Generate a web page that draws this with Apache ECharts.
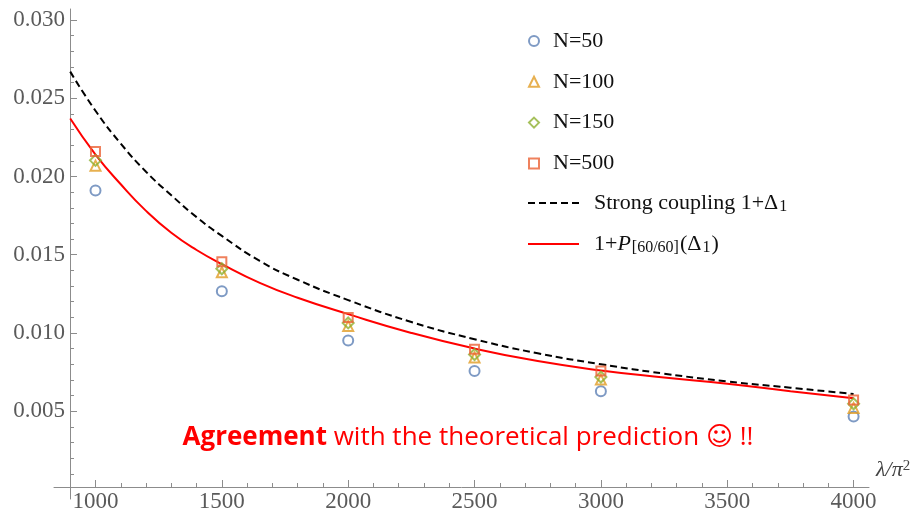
<!DOCTYPE html>
<html>
<head>
<meta charset="utf-8">
<script src="https://cdn.jsdelivr.net/npm/echarts@6/dist/echarts.min.js"></script>
<style>html,body{margin:0;padding:0;background:#fff}#c{width:921px;height:513px}</style>
</head>
<body>
<div id="c"></div>
<script>
// ---- data ----
var lambdaPts = [1000, 1500, 2000, 2500, 3000, 4000];
var n50  = [0.01911, 0.01267, 0.00951, 0.00757, 0.00628, 0.00466];
var n100 = [0.02069, 0.01388, 0.01045, 0.00843, 0.00702, 0.00521];
var n150 = [0.02103, 0.01410, 0.01064, 0.00862, 0.00718, 0.00547];
var n500 = [0.02160, 0.01455, 0.01098, 0.00895, 0.00757, 0.00572];

var curveLambda = [900, 1000, 1100, 1200, 1300, 1400, 1500, 1650, 1800, 2000, 2250, 2500, 2750, 3000, 3250, 3500, 3750, 4000];
var strongCoupling = [0.0267, 0.0242, 0.0221, 0.0203, 0.0188, 0.0174, 0.0162, 0.0146, 0.0134, 0.0121, 0.0107, 0.0096, 0.0087, 0.0080, 0.0074, 0.0069, 0.0065, 0.0061];
var pade = [0.0237, 0.0214, 0.0195, 0.0178, 0.0164, 0.0153, 0.0144, 0.0132, 0.01225, 0.0112, 0.0100, 0.0090, 0.0082, 0.0076, 0.00715, 0.00675, 0.00628, 0.00583];

var xMajorTicks = [1000, 1500, 2000, 2500, 3000, 3500, 4000];
var yMajorTicks = [0.005, 0.010, 0.015, 0.020, 0.025, 0.030];

var xMinorTicks = [];
for (var v = 1000; v <= 4000; v += 100) { if (v % 500 !== 0) xMinorTicks.push(v); }
var yMinorTicks = [];
for (var k = 1; k <= 30; k++) { if (k % 5 !== 0) yMinorTicks.push(k / 1000); }

function pairs(xs, ys) { return xs.map(function (x, i) { return [x, ys[i]]; }); }

var serif = '"Liberation Serif", "DejaVu Serif", serif';
var sans = '"Open Sans", "DejaVu Sans", sans-serif';
var axisGray = '#8c8c8c';
var labelGray = '#5a5a5a';

var colBlue = '#5E81B5', colOrange = '#E19C24', colGreen = '#8FB032', colRed = '#EB6235';

var chart = echarts.init(document.getElementById('c'));

function scatterSeries(name, sym, col, data, size) {
  return {
    name: name, type: 'scatter', data: pairs(lambdaPts, data),
    symbol: sym, symbolSize: size,
    itemStyle: { color: 'rgba(0,0,0,0)', borderColor: col, borderWidth: 2 },
    z: 5
  };
}
function hollow(col) { return { color: 'rgba(0,0,0,0)', borderColor: col, borderWidth: 2 }; }

var xCommon = { type: 'value', min: 835.8, max: 4061, position: 'bottom', offset: -12, splitLine: { show: false } };
var yCommon = { type: 'value', min: -0.000612, max: 0.030702, position: 'left', offset: -16, splitLine: { show: false } };

chart.setOption({
  animation: false,
  grid: { left: 54, right: 52, top: 9, bottom: 13 },
  xAxis: [
    Object.assign({}, xCommon, {
      axisLine: { show: true, lineStyle: { color: axisGray, width: 1 } },
      axisTick: { show: true, inside: true, length: 4, customValues: xMinorTicks, lineStyle: { color: axisGray } },
      axisLabel: { show: false },
      name: '{i|λ/π}{p|2}',
      nameLocation: 'end', nameGap: 7,
      nameTextStyle: {
        verticalAlign: 'bottom', padding: [0, 0, 6, 0],
        rich: {
          i: { fontFamily: serif, fontStyle: 'italic', fontSize: 22, color: '#444', verticalAlign: 'bottom' },
          p: { fontFamily: serif, fontSize: 15, color: '#444', verticalAlign: 'top' }
        }
      }
    }),
    Object.assign({}, xCommon, {
      axisLine: { show: false },
      axisTick: { show: true, inside: true, length: 7, customValues: xMajorTicks, lineStyle: { color: axisGray } },
      axisLabel: { show: true, customValues: xMajorTicks, margin: 3, color: labelGray, fontFamily: serif, fontSize: 23,
        formatter: function (v) { return String(v); } }
    })
  ],
  yAxis: [
    Object.assign({}, yCommon, {
      axisLine: { show: true, lineStyle: { color: axisGray, width: 1 } },
      axisTick: { show: true, inside: true, length: 4, customValues: yMinorTicks, lineStyle: { color: axisGray } },
      axisLabel: { show: false }
    }),
    Object.assign({}, yCommon, {
      axisLine: { show: false },
      axisTick: { show: true, inside: true, length: 7, customValues: yMajorTicks, lineStyle: { color: axisGray } },
      axisLabel: { show: true, customValues: yMajorTicks, margin: 5, color: labelGray, fontFamily: serif, fontSize: 23,
        formatter: function (v) { return v.toFixed(3); } }
    })
  ],
  legend: [
    {
      orient: 'vertical', left: 523, top: 24, itemWidth: 10, itemHeight: 10, itemGap: 16.8,
      data: [
        { name: 'N=50', icon: 'circle', itemStyle: hollow(colBlue) },
        { name: 'N=100', icon: 'triangle', itemStyle: hollow(colOrange) },
        { name: 'N=150', icon: 'diamond', itemStyle: hollow(colGreen) },
        { name: 'N=500', icon: 'rect', itemStyle: hollow(colRed) }
      ],
      textStyle: { fontFamily: serif, fontSize: 22, color: '#111', lineHeight: 24, padding: [0, 0, 0, 9] }
    },
    {
      orient: 'vertical', left: 522, top: 186, itemWidth: 51, itemHeight: 10, itemGap: 17,
      data: [
        { name: 'strong', itemStyle: { color: 'rgba(0,0,0,0)', borderWidth: 0, opacity: 0 } },
        { name: 'pade', itemStyle: { color: 'rgba(0,0,0,0)', borderWidth: 0, opacity: 0 } }
      ],
      formatter: function (name) {
        if (name === 'strong') return '{t|Strong coupling 1+Δ}{s|1}';
        return '{t|1+}{it|P}{s|[60/60]}{t|(Δ}{s|1}{t|)}';
      },
      textStyle: {
        fontFamily: serif, fontSize: 22, color: '#111', lineHeight: 24, padding: [0, 0, 0, 10],
        rich: {
          t: { fontFamily: serif, fontSize: 22, color: '#111', verticalAlign: 'middle', lineHeight: 24 },
          it: { fontFamily: serif, fontSize: 22, fontStyle: 'italic', color: '#111', verticalAlign: 'middle', lineHeight: 24 },
          s: { fontFamily: serif, fontSize: 16, color: '#111', verticalAlign: 'bottom', lineHeight: 24, padding: [0, 1, 0, 1] }
        }
      }
    }
  ],
  graphic: [
    {
      type: 'text', x: 468, y: 438,
      style: {
        text: '{b|Agreement} {n|with the theoretical prediction ☺ !!}',
        align: 'center', verticalAlign: 'middle',
        rich: {
          b: { fontFamily: sans, fontWeight: 'bold', fontSize: 26, fill: '#f00' },
          n: { fontFamily: sans, fontSize: 26, fill: '#f00' }
        },
        fill: '#f00', font: '26px "Open Sans"'
      }
    }
  ],
  series: [
    {
      name: 'strong', type: 'line', data: pairs(curveLambda, strongCoupling), smooth: true,
      symbol: 'none', lineStyle: { color: '#000', width: 2, type: [7, 4] }, itemStyle: { color: '#000' }, z: 2
    },
    {
      name: 'pade', type: 'line', data: pairs(curveLambda, pade), smooth: true,
      symbol: 'none', lineStyle: { color: '#ff0000', width: 2 }, itemStyle: { color: '#ff0000' }, z: 3
    },
    scatterSeries('N=50', 'circle', colBlue, n50, 10),
    scatterSeries('N=100', 'triangle', colOrange, n100, 10),
    scatterSeries('N=150', 'diamond', colGreen, n150, 11),
    scatterSeries('N=500', 'rect', colRed, n500, 9)
  ]
});
</script>
</body>
</html>
